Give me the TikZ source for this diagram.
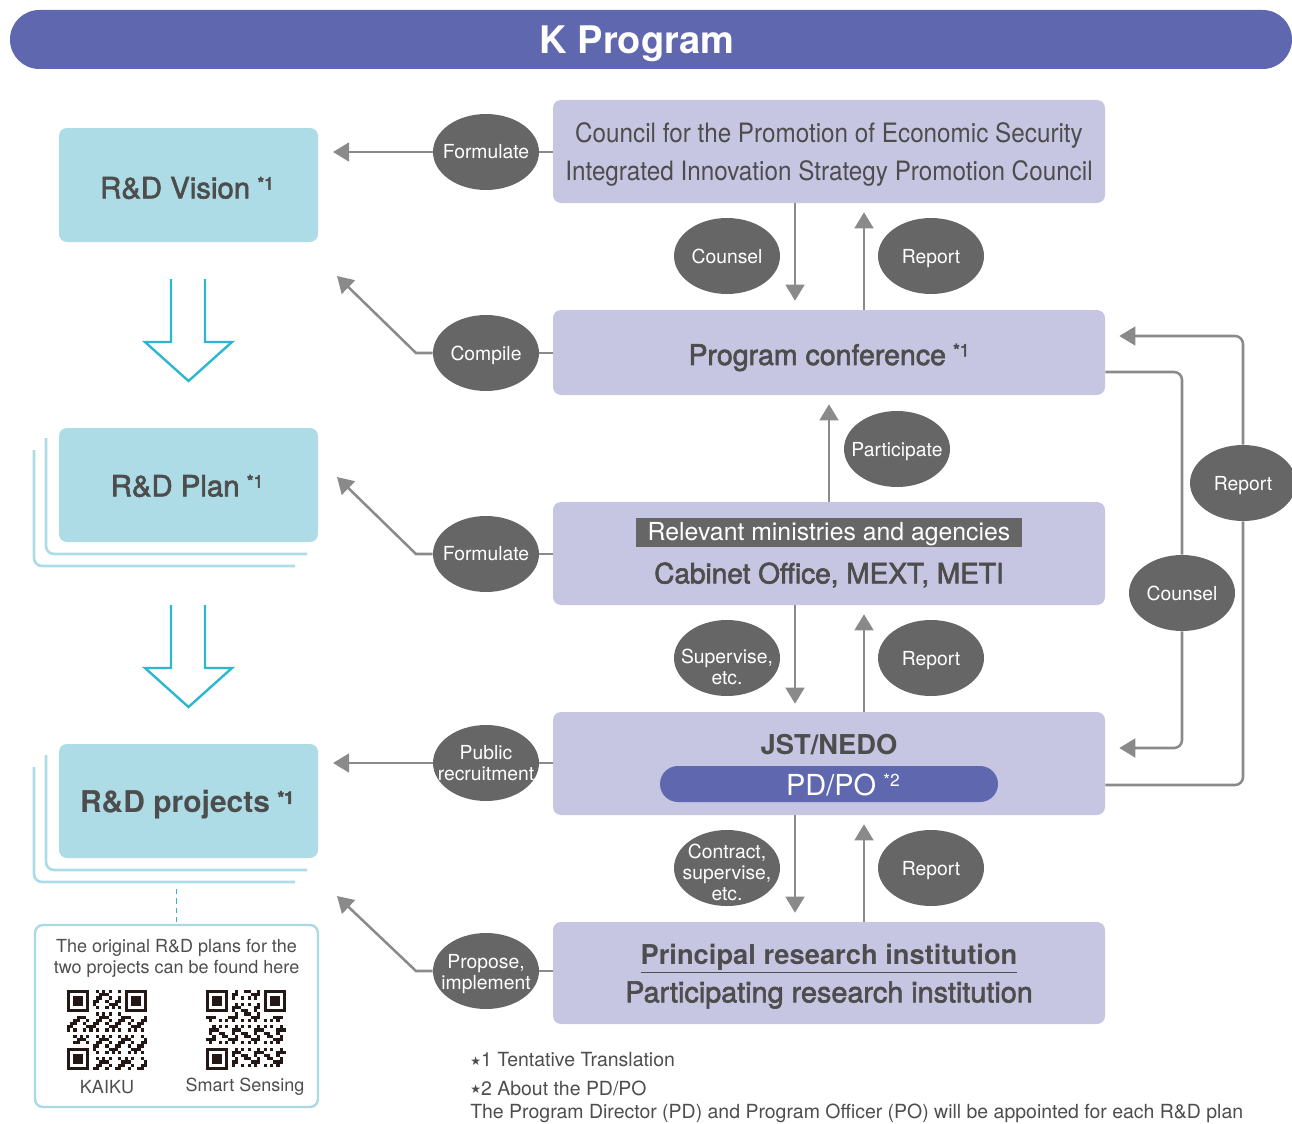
\documentclass[tikz,border=0pt]{standalone}
\usepackage{fontspec}
\setmainfont{TeX Gyre Heros}
\newfontfamily\symfont{DejaVu Sans}
\usetikzlibrary{shapes.geometric,arrows.meta,calc}
\definecolor{hdr}{HTML}{5F67AF}
\definecolor{lblue}{HTML}{ADDCE6}
\definecolor{lpurp}{HTML}{C6C6E2}
\definecolor{ell}{HTML}{666666}
\definecolor{arrc}{HTML}{8A8A8A}
\definecolor{txt}{HTML}{4D4D4D}
\definecolor{cyanarr}{HTML}{2BB7CF}
\definecolor{qrb}{HTML}{A9D9E4}
\definecolor{qrk}{HTML}{231815}
\newcommand\fsz[2]{\fontsize{#1}{#2}\selectfont}
\newcommand\medtxt[1]{\special{pdf:literal direct 2 Tr 0.45 w}#1\special{pdf:literal direct 0 Tr}}
\newcommand\supm[2]{\hspace{0.25em}\raisebox{#1}{\fontsize{13}{13}\selectfont\medtxt{#2}}}
\newcommand\fakeqr[3]{%
 \begin{scope}[shift={(#1,#2)}]
  \foreach \i in {0,...,24}{\foreach \j in {0,...,24}{%
    \pgfmathtruncatemacro\zone{((\i<8)&&(\j<8))||((\i>16)&&(\j<8))||((\i<8)&&(\j>16))}%
    \pgfmathtruncatemacro\v{mod(\i*\i*7+\j*\j*5+\i*\j*3+\i*#3+\j*11+#3,7)}%
    \ifnum\zone=0 \ifnum\v<3 \fill[qrk] (\i*3.2,\j*3.2) rectangle ++(3.2,3.2);\fi\fi
  }}
  \foreach \a/\b in {0/0,18/0,0/18}{%
    \fill[qrk] (\a*3.2,\b*3.2) rectangle ++(22.4,22.4);
    \fill[white] (\a*3.2+3.2,\b*3.2+3.2) rectangle ++(16,16);
    \fill[qrk] (\a*3.2+6.4,\b*3.2+6.4) rectangle ++(9.6,9.6);
  }
 \end{scope}}
\begin{document}
\begin{tikzpicture}[x=0.75pt,y=-0.75pt,
 bluebox/.style={fill=lblue, rounded corners=6pt, minimum width=194.25pt, minimum height=85.5pt, inner sep=0, text=txt},
 purpbox/.style={fill=lpurp, rounded corners=6pt, minimum width=414pt, minimum height=77.25pt, inner sep=0, text=txt, align=center},
 boxtext/.style={text=txt, inner sep=0, align=center},
 bubble/.style 2 args={ellipse, fill=ell, minimum width=79.5pt, minimum height=57pt, inner sep=0,
   label={[text=white, align=center, font=\fsz{14.5}{15.75}, yshift=#2]center:#1}},
 arr/.style={draw=arrc, line width=1.9pt, -{Triangle[length=12pt,width=14pt]}},
 conn/.style={draw=arrc, line width=1.9pt},
 stackline/.style={draw=lblue, line width=2pt, rounded corners=6pt},
 hollow/.style={draw=cyanarr, line width=1.8pt, line join=miter},
]
\useasboundingbox (0,0) rectangle (1292,1124);
% header
\node[fill=hdr, rounded corners=22pt, minimum width=961.5pt, minimum height=44.25pt, inner sep=0] (hdr) at (651,39.5) {};
\node[text=white, font=\bfseries\fsz{28.5}{28.5}, inner sep=0] (hdrtext) at (637,44) {K Program};

% left column
\node[bluebox] (vision) at (188.5,185) {};
\node[boxtext, font=\fsz{22}{22}] (visiontext) at (187,188) {\medtxt{R\&D Vision}\supm{0.3em}{*1}};
\draw[hollow] (171,279) -- (171,342) -- (145,342) -- (188.5,381) -- (232,342) -- (205,342) -- (205,279);
\draw[stackline] (46,438) -- (46,554) -- (307,554);
\draw[stackline] (34,450) -- (34,566) -- (295,566);
\node[bluebox] (plan) at (188.5,485) {};
\node[boxtext, font=\fsz{22}{22}] (plantext) at (187,486) {\medtxt{R\&D Plan}\supm{0.3em}{*1}};
\draw[hollow] (171,605) -- (171,668) -- (145,668) -- (188.5,707) -- (232,668) -- (205,668) -- (205,605);
\draw[stackline] (46,755) -- (46,870) -- (307,870);
\draw[stackline] (34,767) -- (34,882) -- (295,882);
\node[bluebox] (proj) at (188.5,801) {};
\node[boxtext, font=\bfseries\fsz{22.5}{22.5}] (projtext) at (187,805) {R\&D projects\supm{0.3em}{*1}};

% QR box
\coordinate (dtop) at (176.5,889);
\node[draw=qrb, line width=1.8pt, rounded corners=6pt, minimum width=212.25pt, minimum height=136.5pt] (qrbox) at (176.5,1016) {};
\draw[cyanarr, line width=1.3pt, dash pattern=on 4pt off 3pt] (dtop) -- (qrbox.north);
\node[text=txt, align=center, font=\fsz{13.5}{15.75}] (qrtext) at (176.5,958) {The original R\&D plans for the\\two projects can be found here};
\fakeqr{67}{990}{3}
\fakeqr{206}{990}{5}
\node[text=txt, font=\fsz{13.5}{14}] (kaiku) at (107,1087) {KAIKU};
\node[text=txt, font=\fsz{13.5}{14}] (smart) at (245,1087) {Smart Sensing};

% right column boxes
\node[purpbox] (council) at (829,151.5) {};
\node[boxtext, font=\fsz{20}{28.5}] (counciltext) at (829,154.5) {\scalebox{0.91}[1]{Council for the Promotion of Economic Security}\\\scalebox{0.91}[1]{Integrated Innovation Strategy Promotion Council}};
\node[purpbox, minimum height=63.75pt] (conf) at (829,352.5) {};
\node[boxtext, font=\fsz{21.4}{21.4}] (conftext) at (829,357.5) {\medtxt{Program conference}\supm{0.3em}{*1}};
\node[purpbox] (min) at (829,553.5) {};
\node[fill=ell, minimum width=289.5pt, minimum height=21.75pt, inner sep=0, text=white, font=\fsz{18.6}{18.6}] (minlab) at (829,532.5) {};
\node[text=white, font=\fsz{18.6}{18.6}, inner sep=0] (minlabtext) at (829,534.5) {Relevant ministries and agencies};
\node[boxtext, font=\fsz{21}{21}] (mintext) at (829,575) {\medtxt{Cabinet Office, MEXT, METI}};
\node[purpbox] (jst) at (829,763.5) {};
\node[boxtext, font=\bfseries\fsz{20.5}{20.5}] (jsttext) at (829,745) {JST/NEDO};
\node[fill=hdr, rounded corners=13.5pt, minimum width=253.5pt, minimum height=27pt, inner sep=0] (pdpo) at (829,784) {};
\node[text=white, font=\fsz{21.7}{21.7}, inner sep=0] (pdpotext) at (843,785) {PD/PO\hspace{0.25em}\raisebox{0.3em}{\fontsize{13}{13}\selectfont *2}};
\node[purpbox, minimum height=76.5pt] (inst) at (829,973) {};
\node[boxtext, font=\bfseries\fsz{20.5}{20.5}] (insttext1) at (829,959) {\underline{Principal research institution}};
\node[boxtext, font=\fsz{21.6}{21.6}] (insttext2) at (829,995) {\medtxt{Participating research institution}};

% bubbles
\node[bubble={Formulate}{0pt}] (f1) at (486,152) {};
\node[bubble={Counsel}{0pt}] (cn1) at (727,256) {};
\node[bubble={Report}{-2pt}] (rp1) at (931,256) {};
\node[bubble={Compile}{-1.5pt}] (cmp) at (486,353) {};
\node[bubble={Participate}{-2pt}] (par) at (897,449) {};
\node[bubble={Formulate}{0pt}] (f2) at (486,554) {};
\node[bubble={Supervise,\\etc.}{-6.5pt}] (sup) at (727,658) {};
\node[bubble={Report}{-2pt}] (rp2) at (931,658) {};
\node[bubble={Public\\recruitment}{0pt}] (pub) at (486,763) {};
\node[bubble={Contract,\\supervise,\\etc.}{-3pt}] (con) at (727,868) {};
\node[bubble={Report}{-2pt}] (rp3) at (931,868) {};
\node[bubble={Propose,\\implement}{-2.25pt}] (pro) at (486,971) {};
\node[bubble={Report}{-2pt}] (rp4) at (1243,483) {};
\node[bubble={Counsel}{0pt}] (cn2) at (1182,593) {};

% coordinates
\coordinate (xL) at (795,0);
\coordinate (xR) at (864,0);
\coordinate (t1) at (333,152);
\coordinate (k2) at (416,353); \coordinate (t2) at (337,276);
\coordinate (k3) at (416,554); \coordinate (t3) at (337,477);
\coordinate (t4) at (333,763);
\coordinate (k5) at (416,971); \coordinate (t5) at (337,896);
\coordinate (yA) at (0,372); \coordinate (yB) at (0,748);
\coordinate (yC) at (0,785); \coordinate (yD) at (0,336);

% left connectors
\draw[conn] (council.west |- f1) -- (f1.east);
\draw[arr] (f1.west) -- (t1);
\draw[conn] (conf.west |- cmp) -- (cmp.east);
\draw[arr] (cmp.west) -- (k2) -- (t2);
\draw[conn] (min.west |- f2) -- (f2.east);
\draw[arr] (f2.west) -- (k3) -- (t3);
\draw[conn] (jst.west |- pub) -- (pub.east);
\draw[arr] (pub.west) -- (t4);
\draw[conn] (inst.west |- pro) -- (pro.east);
\draw[arr] (pro.west) -- (k5) -- (t5);

% vertical connectors
\draw[arr, shorten >=6.75pt] (council.south -| xL) -- (conf.north -| xL);
\draw[arr, shorten >=6.75pt] (conf.north -| xR) -- (council.south -| xR);
\draw[arr, shorten >=6.75pt] (min.north) -- (conf.south);
\draw[arr, shorten >=6pt] (min.south -| xL) -- (jst.north -| xL);
\draw[arr, shorten >=6.75pt] (jst.north -| xR) -- (min.south -| xR);
\draw[arr, shorten >=6.75pt] (jst.south -| xL) -- (inst.north -| xL);
\draw[arr, shorten >=6.75pt] (inst.north -| xR) -- (jst.south -| xR);

% right loops
\draw[conn, rounded corners=6pt] (conf.east |- yA) -| (cn2.north);
\draw[arr, rounded corners=6pt, shorten >=10.5pt] (cn2.south) |- (jst.east |- yB);
\draw[conn, rounded corners=6pt] (jst.east |- yC) -| (rp4.south);
\draw[arr, rounded corners=6pt, shorten >=10.5pt] (rp4.north) |- (conf.east |- yD);

% footnotes
\node[anchor=west, text=txt, font=\fsz{14.6}{14.6}, inner sep=0] (fn1) at (470,1060) {{\symfont\fontsize{9}{9}\selectfont\raisebox{1pt}{★}}1 Tentative Translation};
\node[anchor=west, text=txt, font=\fsz{14.6}{14.6}, inner sep=0] (fn2) at (470,1088) {{\symfont\fontsize{9}{9}\selectfont\raisebox{1pt}{★}}2 About the PD/PO};
\node[anchor=west, text=txt, font=\fsz{14.6}{14.6}, inner sep=0] (fn3) at (470,1113) {The Program Director (PD) and Program Officer (PO) will be appointed for each R\&D plan};
\end{tikzpicture}
\end{document}
